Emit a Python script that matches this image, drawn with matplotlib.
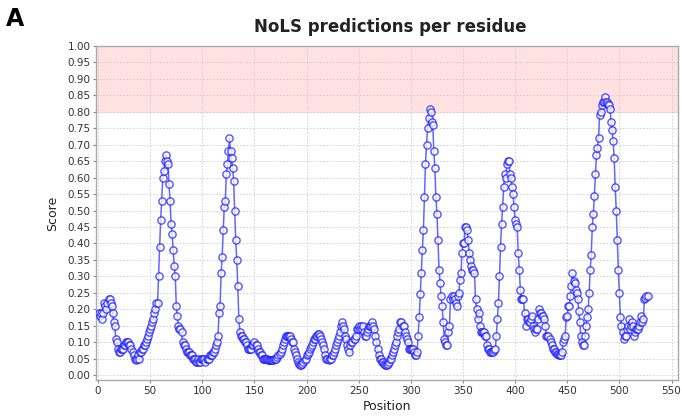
import matplotlib
matplotlib.use("Agg")
import matplotlib.pyplot as plt
from matplotlib import font_manager
import numpy as np

# narrow face for the axis text when one is available
narrow = [f for f in ['Liberation Sans Narrow', 'DejaVu Sans Condensed']
          if any(f == e.name for e in font_manager.fontManager.ttflist)]
plt.rcParams['font.family'] = narrow + ['DejaVu Sans']

# NoLS score for each residue, starting at residue 1
scores = [
    0.19, 0.18, 0.19, 0.17, 0.19, 0.22, 0.21, 0.20, 0.22, 0.23,
    0.23, 0.22, 0.21, 0.19, 0.16, 0.15, 0.11, 0.10, 0.08, 0.07,
    0.07, 0.08, 0.08, 0.08, 0.09, 0.09, 0.10, 0.10, 0.10, 0.09,
    0.09, 0.08, 0.07, 0.06, 0.05, 0.045, 0.05, 0.06, 0.05, 0.07,
    0.07, 0.08, 0.08, 0.09, 0.09, 0.10, 0.11, 0.12, 0.13, 0.14,
    0.15, 0.16, 0.17, 0.19, 0.20, 0.22, 0.22, 0.30, 0.39, 0.47,
    0.53, 0.60, 0.62, 0.65, 0.67, 0.65, 0.64, 0.58, 0.53, 0.46,
    0.43, 0.38, 0.33, 0.30, 0.21, 0.18, 0.15, 0.14, 0.14, 0.13,
    0.10, 0.09, 0.09, 0.08, 0.07, 0.07, 0.07, 0.06, 0.06, 0.06,
    0.05, 0.05, 0.05, 0.04, 0.04, 0.05, 0.04, 0.04, 0.05, 0.05,
    0.05, 0.05, 0.04, 0.05, 0.05, 0.05, 0.06, 0.06, 0.06, 0.07,
    0.07, 0.08, 0.09, 0.10, 0.12, 0.19, 0.21, 0.31, 0.36, 0.44,
    0.51, 0.53, 0.61, 0.64, 0.68, 0.72, 0.68, 0.66, 0.63, 0.59,
    0.50, 0.41, 0.35, 0.27, 0.17, 0.13, 0.12, 0.12, 0.11, 0.11,
    0.10, 0.10, 0.09, 0.08, 0.08, 0.08, 0.08, 0.09, 0.09, 0.10,
    0.09, 0.09, 0.08, 0.07, 0.07, 0.06, 0.06, 0.05, 0.05, 0.05,
    0.05, 0.05, 0.045, 0.045, 0.045, 0.045, 0.045, 0.045, 0.05, 0.05,
    0.05, 0.055, 0.06, 0.065, 0.07, 0.08, 0.09, 0.10, 0.11, 0.12,
    0.12, 0.12, 0.12, 0.12, 0.11, 0.10, 0.10, 0.08, 0.07, 0.06,
    0.05, 0.04, 0.035, 0.03, 0.03, 0.035, 0.04, 0.045, 0.05, 0.06,
    0.065, 0.07, 0.08, 0.085, 0.09, 0.10, 0.11, 0.11, 0.12, 0.12,
    0.125, 0.125, 0.12, 0.11, 0.10, 0.09, 0.08, 0.06, 0.05, 0.05,
    0.045, 0.05, 0.05, 0.06, 0.06, 0.07, 0.08, 0.09, 0.10, 0.11,
    0.12, 0.13, 0.15, 0.16, 0.15, 0.14, 0.12, 0.11, 0.09, 0.08,
    0.07, 0.09, 0.10, 0.10, 0.11, 0.11, 0.12, 0.14, 0.14, 0.15,
    0.14, 0.15, 0.14, 0.15, 0.13, 0.12, 0.12, 0.13, 0.14, 0.15,
    0.15, 0.15, 0.16, 0.15, 0.14, 0.12, 0.10, 0.08, 0.06, 0.05,
    0.05, 0.04, 0.04, 0.035, 0.03, 0.03, 0.03, 0.035, 0.04, 0.05,
    0.05, 0.06, 0.07, 0.08, 0.09, 0.10, 0.12, 0.13, 0.14, 0.16,
    0.16, 0.15, 0.15, 0.13, 0.12, 0.11, 0.10, 0.08, 0.08, 0.08,
    0.08, 0.08, 0.07, 0.06, 0.06, 0.07, 0.12, 0.175, 0.245, 0.31,
    0.38, 0.44, 0.54, 0.64, 0.70, 0.75, 0.78, 0.81, 0.80, 0.77,
    0.76, 0.68, 0.63, 0.54, 0.49, 0.41, 0.32, 0.28, 0.24, 0.21,
    0.16, 0.11, 0.10, 0.09, 0.09, 0.13, 0.15, 0.23, 0.24, 0.23,
    0.24, 0.23, 0.22, 0.21, 0.24, 0.25, 0.29, 0.31, 0.37, 0.40,
    0.40, 0.45, 0.45, 0.44, 0.41, 0.37, 0.35, 0.33, 0.32, 0.32,
    0.31, 0.23, 0.20, 0.17, 0.19, 0.15, 0.13, 0.13, 0.13, 0.13,
    0.12, 0.12, 0.09, 0.08, 0.08, 0.07, 0.07, 0.07, 0.07, 0.075,
    0.08, 0.12, 0.17, 0.22, 0.30, 0.39, 0.46, 0.51, 0.57, 0.61,
    0.60, 0.64, 0.65, 0.65, 0.61, 0.60, 0.57, 0.55, 0.51, 0.47,
    0.46, 0.45, 0.37, 0.32, 0.26, 0.23, 0.23, 0.23, 0.19, 0.15,
    0.17, 0.17, 0.16, 0.16, 0.17, 0.18, 0.15, 0.14, 0.13, 0.14,
    0.14, 0.17, 0.20, 0.19, 0.19, 0.18, 0.18, 0.17, 0.15, 0.12,
    0.12, 0.12, 0.11, 0.10, 0.09, 0.08, 0.08, 0.07, 0.07, 0.065,
    0.065, 0.06, 0.06, 0.06, 0.07, 0.10, 0.11, 0.12, 0.175, 0.18,
    0.21, 0.21, 0.24, 0.27, 0.31, 0.285, 0.28, 0.26, 0.25, 0.23,
    0.195, 0.16, 0.12, 0.10, 0.09, 0.09, 0.12, 0.15, 0.175, 0.20,
    0.25, 0.32, 0.365, 0.45, 0.49, 0.545, 0.61, 0.67, 0.69, 0.72,
    0.79, 0.80, 0.82, 0.83, 0.83, 0.844, 0.83, 0.83, 0.824, 0.82,
    0.81, 0.77, 0.745, 0.71, 0.66, 0.57, 0.50, 0.41, 0.32, 0.25,
    0.175, 0.15, 0.13, 0.11, 0.12, 0.12, 0.14, 0.15, 0.17, 0.14,
    0.15, 0.16, 0.15, 0.12, 0.13, 0.14, 0.14, 0.14, 0.15, 0.16,
    0.18, 0.16, 0.17, 0.23, 0.235, 0.24, 0.24,
]
positions = np.arange(1, len(scores) + 1)

threshold = 0.8
x_ticks = list(range(0, 551, 50))
y_ticks = [i / 100 for i in range(0, 101, 5)]

fig = plt.figure(figsize=(6.82, 4.17), dpi=100)
ax = fig.add_axes([0.1408, 0.0887, 0.853, 0.801])

# shaded band for scores above the NoLS threshold
ax.axhspan(threshold, 1.0, color='#ffe1e1', zorder=0)

ax.plot(positions, scores, color='#3333ff', lw=1.1, alpha=0.75,
        marker='o', markersize=5.2, markerfacecolor='white',
        markeredgecolor='#1a1aff', markeredgewidth=1.0, zorder=3)

ax.set_xlim(-2, 556)
ax.set_ylim(-0.015, 1.0)
ax.set_xticks(x_ticks)
ax.set_yticks(y_ticks)
ax.set_yticklabels([f'{v:.2f}' for v in y_ticks])
ax.grid(True, color='#cccccc', linestyle=(0, (2, 2)), linewidth=0.6)
ax.set_axisbelow(True)

for side in ['top', 'right', 'left', 'bottom']:
    ax.spines[side].set_color('#aaaaaa')
    ax.spines[side].set_linewidth(1.0)
ax.tick_params(axis='both', labelsize=7.5, length=2, color='#888888',
               labelcolor='#333333', pad=2)

ax.set_xlabel('Position', fontsize=9, color='#222222', labelpad=3)
ax.set_ylabel('Score', fontsize=9, color='#222222', labelpad=6)

fig.text(0.5725, 0.935, 'NoLS predictions per residue', ha='center',
         va='center', fontsize=12, fontweight='bold', color='#222222')
fig.text(0.008, 0.955, 'A', ha='left', va='center', fontsize=17,
         fontweight='bold', color='black')

fig.savefig('out.png', dpi=100)
